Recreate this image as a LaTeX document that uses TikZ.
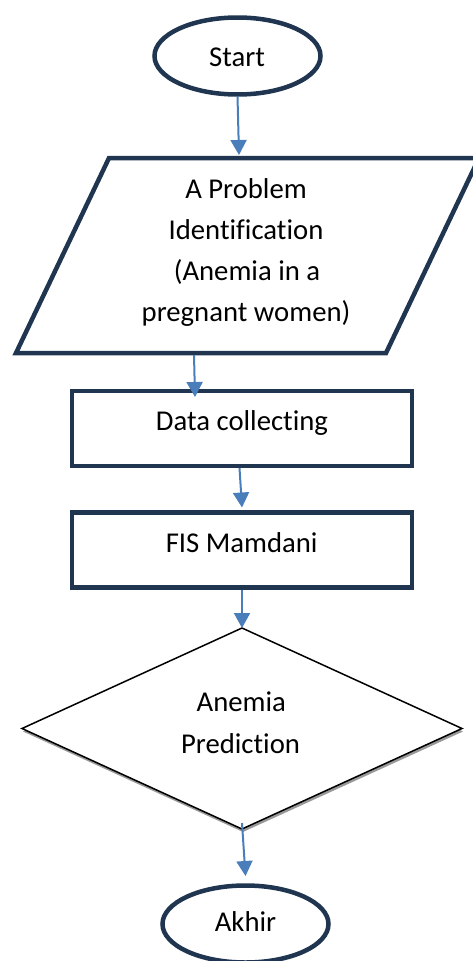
\documentclass[tikz,border=0pt]{standalone}
\usepackage{fontspec}
\setmainfont{Carlito}[Ligatures={NoCommon},RawFeature={-liga}]
\usetikzlibrary{shapes.geometric,arrows.meta,shadows}
\definecolor{navy}{HTML}{1F3550}
\definecolor{arrowblue}{HTML}{4A7EBB}
\begin{document}
\begin{tikzpicture}[x=1pt,y=-1pt,
  box/.style={draw=navy,line width=4.5pt,inner sep=0pt,outer sep=0pt,fill=white},
  term/.style={box,ellipse,minimum width=166pt,minimum height=77pt},
  proc/.style={box,rectangle,minimum width=340pt,minimum height=75pt},
  txt/.style={anchor=base,inner sep=0pt,outer sep=0pt,font=\fontsize{28.7}{34}\selectfont},
  arr/.style={draw=arrowblue,line width=2pt,-{Triangle[width=16pt,length=15pt]}},
]
\useasboundingbox (0,0) rectangle (473,961);
% Start
\node[term] (start) at (237.5,56) {};
\node[txt] (tstart) at (237,66) {Start};
% Problem identification (parallelogram)
\draw[draw=navy,line width=4.5pt,fill=white,line join=miter] (109,158) -- (479,158) -- (386,353) -- (16,353) -- cycle;
\coordinate (probtop) at (239,155);
\coordinate (probbot) at (194,355);
\node[txt] (p1) at (246,198) {A Problem};
\node[txt] (p2) at (246,239) {Identification};
\node[txt] (p3) at (247,280) {(Anemia in a};
\node[txt] (p4) at (246,321) {pregnant women)};
% Data collecting
\node[proc] (data) at (242,428.5) {};
\node[txt] (tdata) at (242,430) {Data collecting};
% FIS Mamdani
\node[proc] (fis) at (242,550) {};
\node[txt] (tfis) at (241.7,552.3) {FIS Mamdani};
% Decision
\node[diamond,draw=black,line width=1.5pt,fill=white,minimum width=440pt,minimum height=201pt,inner sep=0pt,outer sep=0pt,
  drop shadow={shadow xshift=1pt,shadow yshift=-3pt,fill=black!40,opacity=1}] (dia) at (242,728.5) {};
\node[txt] (tdia1) at (241.3,711.7) {Anemia};
\node[txt] (tdia2) at (240.5,753.3) {Prediction};
% End
\node[term] (akhir) at (245.5,924) {};
\node[txt] (takhir) at (245.5,931.7) {Akhir};
% Connectors
\draw[arr] ([yshift=-2pt]start.south) -- (probtop);
\draw[arr] (probbot) -- ([xshift=1pt,yshift=-6pt]probbot |- data.north);
\draw[arr] ([xshift=-2.5pt,yshift=-2pt]data.south) -- ([yshift=5pt]fis.north);
\draw[arr] ([yshift=-2pt]fis.south) -- (dia.north);
\draw[arr] ([yshift=6pt]dia.south) -- ([yshift=9.5pt]akhir.north);
\end{tikzpicture}
\end{document}
